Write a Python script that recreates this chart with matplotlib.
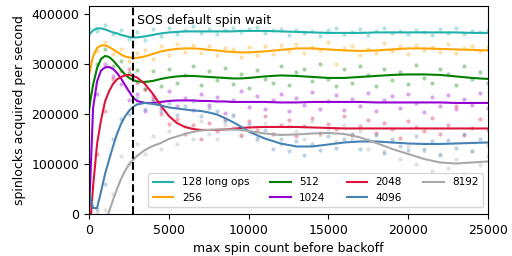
import matplotlib
matplotlib.use("Agg")
import matplotlib.pyplot as plt

# spin counts where the smoothed curves are sampled
fit_x = [0, 125, 250, 500, 750, 1000, 1250, 1500, 1750, 2000, 2250, 2500, 2750,
         3000, 3500, 4000, 4500, 5000, 5500, 6000, 6500, 7000, 7500, 8000, 8500,
         9000, 9500, 10000, 11000, 12000, 13000, 14000, 15000, 16000, 17000,
         18000, 19000, 20000, 21000, 22000, 23000, 24000, 25000]

# smoothed curves, thousands of spinlocks / second
fit_128 = [358, 363, 367, 371, 371, 369, 366, 363, 361, 358, 356, 354, 353,
           353, 355, 358, 361, 363, 364, 365, 365, 365, 365, 365, 365,
           365, 366, 366, 366, 365, 364, 363, 362, 362, 362,
           363, 363, 363, 363, 363, 363, 362, 362]
fit_256 = [278, 298, 315, 332, 337, 337, 334, 329, 324, 319, 315, 313, 312,
           312, 315, 320, 325, 328, 330, 331, 331, 330, 328, 327, 325,
           324, 323, 323, 325, 328, 331, 331, 329, 327, 326,
           327, 329, 331, 331, 330, 329, 328, 327]
fit_512 = [208, 235, 258, 292, 310, 316, 314, 307, 298, 288, 279, 272, 268,
           265, 264, 266, 270, 273, 275, 276, 276, 275, 274, 273, 272,
           271, 271, 272, 275, 277, 276, 274, 272, 272, 274,
           276, 278, 279, 279, 278, 275, 272, 270]
fit_1024 = [0, 108, 212, 265, 287, 293, 294, 290, 282, 271, 258, 245, 233,
            226, 222, 222, 224, 226, 227, 227, 227, 226, 226, 225, 225,
            224, 224, 224, 224, 223, 223, 224, 224, 224, 224,
            223, 223, 223, 223, 223, 222, 222, 222]
fit_2048 = [-30, 0, 55, 140, 188, 225, 245, 260, 269, 274, 277, 278, 276,
            273, 260, 240, 217, 196, 182, 174, 170, 168, 168, 168, 169,
            170, 172, 173, 174, 174, 174, 173, 172, 171, 171,
            171, 171, 171, 171, 171, 171, 171, 171]
fit_4096 = [50, 28, 12, 12, 45, 80, 108, 135, 160, 180, 195, 206, 214,
            219, 222, 220, 217, 213, 211, 209, 207, 206, 203, 199, 192,
            184, 175, 165, 151, 141, 135, 135, 139, 143, 145,
            145, 143, 141, 140, 140, 141, 142, 143]
fit_8192 = [-120, -110, -100, -80, -50, -20, 5, 28, 50, 70, 86, 99, 108,
            116, 128, 136, 142, 150, 155, 160, 164, 167, 168, 169, 169,
            169, 168, 166, 161, 158, 159, 161, 162, 160, 153,
            142, 130, 120, 110, 103, 101, 103, 105]

# raw measurements, one every 500 spins
pts_x = list(range(0, 25001, 500))
pts_128 = [372, 365, 378, 360, 368, 349, 364, 347, 370, 356, 372, 360, 368, 375, 362, 370, 359,
           368, 371, 363, 369, 374, 361, 367, 370, 358, 368, 361, 365, 356, 367, 372, 360, 364,
           369, 358, 365, 371, 361, 366, 360, 368, 364, 357, 369, 362, 372, 360, 366, 363, 368]
pts_256 = [300, 325, 344, 320, 330, 306, 322, 328, 310, 336, 318, 340, 324, 338, 322, 335, 318,
           332, 329, 314, 333, 318, 336, 320, 338, 326, 340, 322, 334, 328, 344, 300, 331, 336,
           318, 330, 322, 341, 326, 335, 320, 338, 328, 333, 324, 340, 322, 331, 336, 325, 333]
pts_512 = [240, 300, 330, 295, 305, 282, 288, 250, 285, 255, 290, 262, 278, 295, 258, 286, 268,
           292, 260, 280, 252, 288, 270, 262, 296, 258, 284, 290, 265, 300, 270, 256, 289, 262,
           295, 278, 255, 290, 268, 284, 260, 298, 272, 262, 290, 280, 258, 296, 270, 284, 262]
pts_1024 = [20, 240, 300, 275, 260, 228, 240, 205, 236, 212, 245, 215, 232, 208, 240, 218, 234,
            202, 228, 246, 214, 236, 210, 228, 240, 205, 232, 218, 244, 210, 226, 238, 208, 230,
            215, 242, 206, 228, 236, 212, 240, 222, 204, 234, 215, 238, 210, 230, 218, 242, 212]
pts_2048 = [0, 120, 205, 270, 285, 290, 262, 250, 230, 200, 180, 190, 160, 178, 150, 182, 165,
            190, 172, 158, 185, 168, 195, 160, 178, 188, 155, 176, 192, 162, 180, 170, 195, 158,
            176, 188, 162, 182, 170, 152, 186, 174, 165, 192, 160, 178, 215, 158, 172, 190, 168]
pts_4096 = [30, 10, 60, 150, 190, 200, 232, 210, 228, 205, 222, 198, 215, 225, 196, 212, 205,
            185, 198, 170, 180, 152, 168, 130, 150, 125, 145, 118, 140, 128, 155, 132, 150, 160,
            130, 148, 158, 122, 150, 135, 128, 155, 130, 145, 118, 148, 132, 160, 125, 150, 138]
pts_8192 = [5, 5, 8, 40, 115, 100, 140, 120, 155, 130, 165, 140, 175, 150, 185, 160, 150,
            178, 195, 155, 170, 148, 182, 160, 140, 175, 165, 150, 185, 158, 170, 145, 178, 150,
            165, 130, 160, 125, 145, 110, 135, 100, 125, 85, 120, 92, 110, 80, 125, 98, 115]

series = [
    ("128 long ops", fit_128, pts_128, "lightseagreen"),
    ("256", fit_256, pts_256, "orange"),
    ("512", fit_512, pts_512, "green"),
    ("1024", fit_1024, pts_1024, "darkviolet"),
    ("2048", fit_2048, pts_2048, "crimson"),
    ("4096", fit_4096, pts_4096, "steelblue"),
    ("8192", fit_8192, pts_8192, "darkgray"),
]

SOS_DEFAULT = 2750

plt.rcParams["font.size"] = 9

fig = plt.figure(figsize=(5.12, 2.56), dpi=100)
ax = fig.add_axes([0.174, 0.164, 0.779, 0.813])

for label, fit, pts, color in series:
    ax.scatter(pts_x, [v * 1000 for v in pts], s=9, color=color, alpha=0.35, linewidths=0)
    ax.plot(fit_x, [v * 1000 for v in fit], color=color, lw=1.5, label=label)

ax.axvline(SOS_DEFAULT, color="black", ls="--", lw=1.5)
ax.text(SOS_DEFAULT + 250, 386000, "SOS default spin wait", va="center", ha="left")

ax.set_xlim(0, 25000)
ax.set_ylim(0, 416000)
ax.set_xticks([0, 5000, 10000, 15000, 20000, 25000])
ax.set_yticks([0, 100000, 200000, 300000, 400000])
ax.set_xlabel("max spin count before backoff")
ax.set_ylabel("spinlocks acquired per second")
ax.legend(loc="lower right", ncol=4, fontsize=7.5, bbox_to_anchor=(1.0, 0.01))

fig.savefig("out.png", dpi=100)
